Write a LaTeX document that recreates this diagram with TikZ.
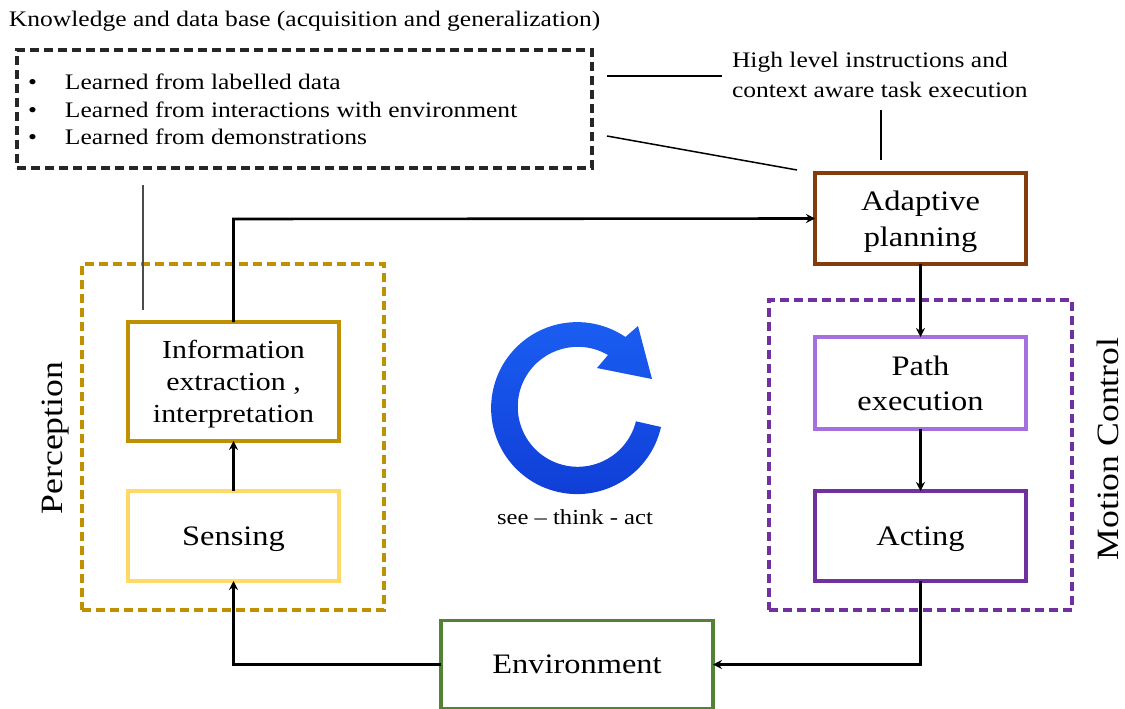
\documentclass[tikz,border=0pt]{standalone}
\usepackage{fontspec}
\setmainfont[FakeStretch=1.15]{Liberation Serif}
\usetikzlibrary{arrows.meta}
\definecolor{kbcol}{HTML}{262626}
\definecolor{percol}{HTML}{BF9000}
\definecolor{sencol}{HTML}{FFD966}
\definecolor{plancol}{HTML}{843C0C}
\definecolor{motcol}{HTML}{7030A0}
\definecolor{pathcol}{HTML}{A56FDD}
\definecolor{envcol}{HTML}{548235}
\definecolor{ringtop}{HTML}{1B5EF2}
\definecolor{ringbot}{HTML}{0F3DD6}
\newcommand{\fsz}[2]{\fontsize{#1pt}{#2pt}\selectfont}
\tikzset{
  x=1pt,y=-1pt,
  solidbox/.style={draw,fill=white,line width=3.5pt,inner sep=0pt,outer sep=0pt,align=center,text depth=0pt,font=\fsz{28.2}{35.5}},
  dashbox/.style={draw,line width=3.2pt,inner sep=0pt,outer sep=0pt,dash pattern=on 9pt off 5pt},
  flow/.style={draw=black,line width=2.6pt,-{Stealth[length=9pt,width=9pt]}},
  thin link/.style={draw=black,line width=1.5pt},
  lab/.style={inner sep=0pt,outer sep=0pt},
}
\begin{document}
\begin{tikzpicture}
\useasboundingbox (0,0) rectangle (1125,709);
% dashed frames
\node[dashbox,draw=kbcol,minimum width=575pt,minimum height=118pt] (kb) at (304.5,109) {};
\node[dashbox,draw=percol,minimum width=302pt,minimum height=346pt] (per) at (233,437) {};
\node[dashbox,draw=motcol,minimum width=303pt,minimum height=310pt] (mot) at (920.5,455) {};
% free ends
\coordinate (kbdown) at (143,185);
\coordinate (infoup) at (143,310);
\coordinate (hl) at (722,76);
\coordinate (kbr) at (607,76);
\coordinate (kbr2) at (607,136);
\coordinate (planul) at (797,170);
\coordinate (instr) at (881,110);
\coordinate (planup) at (881,160);
\coordinate (bendtop) at (233.5,219);
% links behind boxes
\draw[thin link,draw=black!70] (kbdown) -- (infoup);
\draw[thin link] (kbr) -- (hl);
\draw[thin link] (kbr2) -- (planul);
\draw[thin link] (instr) -- (planup);
% solid boxes
\node[solidbox,draw=percol,minimum width=211pt,minimum height=119pt,font=\fsz{26}{32}] (info) at (233.5,381.5) {Information\\extraction ,\\interpretation};
\node[solidbox,draw=sencol,minimum width=211pt,minimum height=90pt] (sens) at (233.5,536) {Sensing};
\node[solidbox,draw=plancol,minimum width=211pt,minimum height=91pt] (plan) at (920.5,218.5) {Adaptive\\planning};
\node[solidbox,draw=pathcol,minimum width=211pt,minimum height=92pt] (path) at (920.5,383) {Path\\execution};
\node[solidbox,draw=motcol,minimum width=211pt,minimum height=90pt] (act) at (920.5,536) {Acting};
\node[solidbox,draw=envcol,minimum width=272pt,minimum height=88pt] (env) at (577,664.5) {Environment};
% connectors
\draw[flow] (info.north) -- (bendtop) -- (plan.west);
\draw[flow] (sens.north) -- (info.south);
\draw[flow] (plan.south) -- (path.north);
\draw[flow] (path.south) -- (act.north);
\draw[flow] (act.south) |- (env.east);
\draw[flow] (env.west) -| (sens.south);
% cycle arrow
\path[top color=ringtop,bottom color=ringbot,draw=none]
  (661,427) arc[start angle=-12.7,end angle=-304.2,radius=86pt]
  -- (638,326) -- (652,379) -- (597,368) -- (608,355)
  arc[start angle=59.7,end angle=346,radius=60pt] -- cycle;
% texts
\node[lab,anchor=west,font=\fsz{22.2}{26}] (title) at (9,21) {Knowledge and data base (acquisition and generalization)};
\node[lab,anchor=west,font=\fsz{22.2}{26}] (b1) at (28,82) {\makebox[37pt][l]{•}Learned from labelled data};
\node[lab,anchor=west,font=\fsz{22.2}{26}] (b2) at (28,109.5) {\makebox[37pt][l]{•}Learned from interactions with environment};
\node[lab,anchor=west,font=\fsz{22.2}{26}] (b3) at (28,137) {\makebox[37pt][l]{•}Learned from demonstrations};
\node[lab,anchor=west,font=\fsz{22.2}{26}] (hl1) at (732,62) {High level instructions and};
\node[lab,anchor=west,font=\fsz{22.2}{26}] (hl2) at (732,90) {context aware task execution};
\node[lab,font=\fsz{21.4}{25}] (cyc) at (575,517) {see – think - act};
\node[lab,rotate=90,font=\fsz{31}{36}] (perl) at (56,438) {Perception};
\node[lab,rotate=90,font=\fsz{31}{36}] (motl) at (1108,449) {Motion Control};
\end{tikzpicture}
\end{document}
